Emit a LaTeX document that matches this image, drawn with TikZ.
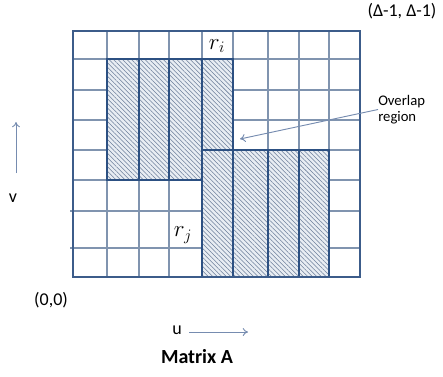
\documentclass[tikz,border=0pt]{standalone}
\usepackage{fontspec}
\setmainfont{Carlito}
\usetikzlibrary{patterns.meta,arrows.meta}
\definecolor{gridblue}{RGB}{128,148,175}
\definecolor{frameblue}{RGB}{60,92,138}
\definecolor{cellblue}{RGB}{44,80,130}
\definecolor{hatchgray}{RGB}{108,126,154}
\definecolor{hatchbg}{RGB}{232,237,243}
\definecolor{pointer}{RGB}{118,140,176}
\tikzset{
    gridline/.style={line width=0.8pt, gridblue},
    frameline/.style={line width=1.6pt, frameblue},
    % hatched column of the matrix
    column/.style={
        line width=1.7pt,
        draw=cellblue,
        preaction={fill=hatchbg},
        pattern={Lines[angle=-45,distance=2.4pt,line width=0.4pt]},
        pattern color=hatchgray
    },
    pointarrow/.style={
        line width=0.7pt,
        pointer,
        -{To[length=4pt,width=6pt]}
    },
    lbl/.style={inner sep=0pt, font=\fontsize{13.5}{15}\selectfont},
    smalllbl/.style={inner sep=0pt, align=left, font=\fontsize{11}{11.5}\selectfont},
    mathlbl/.style={inner sep=0pt, font=\fontsize{17}{19}\selectfont}
}

\begin{document}
\begin{tikzpicture}[x=0.75pt,y=-0.75pt]
\useasboundingbox (0,0) rectangle (443,376);

% grid
\foreach \x in {107,139,169,202,233,268,299,329}
    \draw[gridline] (\x,31) -- (\x,277);
\foreach \y in {59,90,120,150,180}
    \draw[gridline] (73,\y) -- (360,\y);
\foreach \y in {211,248}
    \draw[gridline] (70,\y) -- (360,\y);

% upper block (r_i)
\foreach \a/\b in {107/139,139/169,169/202}
    \draw[column] (\a,59) rectangle (\b,180);
\draw[column] (202,59) rectangle (233,150);

% lower block (r_j)
\foreach \a/\b in {202/233,233/268,268/299,299/329}
    \draw[column] (\a,150) rectangle (\b,277);

\draw[frameline] (73,31) rectangle (360,277);

% labels
\node[lbl] (corner) at (402,11) {(Δ-1, Δ-1)};
\node[lbl] (origin) at (51,300) {(0,0)};
\node[mathlbl] (ri) at (217,46) {$r_i$};
\node[mathlbl] (rj) at (183,235) {$r_j$};
\node[smalllbl, anchor=west] (overlap) at (378,109.5) {Overlap\\region};
\coordinate (overlaptip) at (240,139);
\draw[pointarrow] (overlap.west) -- (overlaptip);

% axes
\node[lbl] (ulabel) at (177,330) {u};
\coordinate (ustart) at (189,332);
\coordinate (uend) at (248,332);
\draw[pointarrow] (ustart) -- (uend);

\node[lbl] (vlabel) at (13,198) {v};
\coordinate (vstart) at (16,173);
\coordinate (vend) at (16,122);
\draw[pointarrow] (vstart) -- (vend);

\node[lbl, font=\fontsize{15}{17}\selectfont\bfseries] (title) at (197,357) {Matrix A};
\end{tikzpicture}
\end{document}
